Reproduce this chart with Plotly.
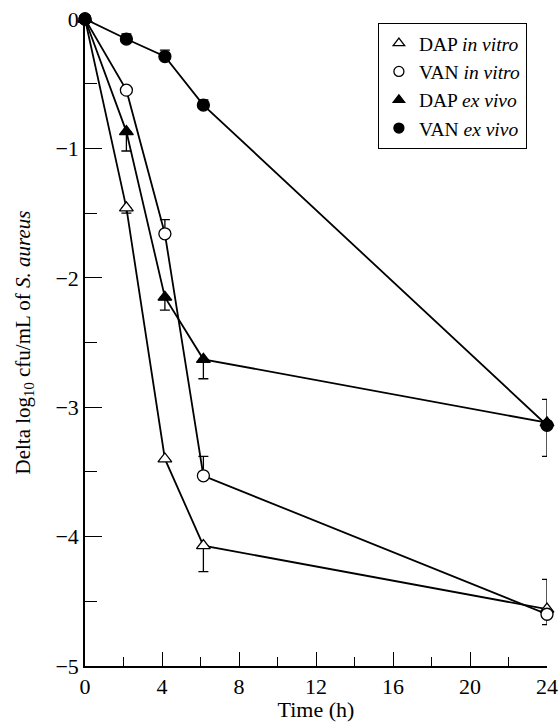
import plotly.graph_objects as go

time_h = [0, 2.15, 4.15, 6.15, 24]

dap_invitro = [0, -1.46, -3.40, -4.07, -4.56]
dap_invitro_up = [0, 0.0, 0, 0, 0.23]
dap_invitro_dn = [0, 0.04, 0, 0.20, 0]

van_invitro = [0, -0.55, -1.66, -3.53, -4.60]
van_invitro_up = [0, 0, 0.11, 0.15, 0]
van_invitro_dn = [0, 0, 0, 0, 0.08]

dap_exvivo = [0, -0.87, -2.15, -2.63, -3.12]
dap_exvivo_up = [0, 0, 0, 0, 0]
dap_exvivo_dn = [0, 0.15, 0.10, 0.15, 0]

van_exvivo = [0, -0.155, -0.29, -0.665, -3.14]
van_exvivo_up = [0, 0.04, 0.05, 0.04, 0.20]
van_exvivo_dn = [0, 0, 0, 0, 0.24]

x_ticks = [0, 4, 8, 12, 16, 20, 24]
y_ticks = [0, -1, -2, -3, -4, -5]

series = [
    ("DAP <i>in vitro</i>", dap_invitro, dap_invitro_up, dap_invitro_dn, "triangle-up", "white"),
    ("VAN <i>in vitro</i>", van_invitro, van_invitro_up, van_invitro_dn, "circle", "white"),
    ("DAP <i>ex vivo</i>", dap_exvivo, dap_exvivo_up, dap_exvivo_dn, "triangle-up", "black"),
    ("VAN <i>ex vivo</i>", van_exvivo, van_exvivo_up, van_exvivo_dn, "circle", "black"),
]

FONT = "Liberation Serif, Times New Roman, serif"

fig = go.Figure()

for name, y, up, dn, sym, fill in series:
    fig.add_trace(go.Scatter(
        x=time_h, y=y, mode="lines+markers", showlegend=False,
        line=dict(color="black", width=1.8),
        marker=dict(symbol=sym, size=12, color=fill, line=dict(color="black", width=1.3)),
        error_y=dict(type="data", symmetric=False, array=up, arrayminus=dn,
                     color="black", thickness=1.3, width=5),
        cliponaxis=False,
    ))

for name, y, up, dn, sym, fill in series:
    fig.add_trace(go.Scatter(
        x=[None], y=[None], mode="markers", name=name,
        marker=dict(symbol=sym, size=10, color=fill, line=dict(color="black", width=1.3)),
    ))

fig.update_layout(
    width=560, height=722,
    margin=dict(l=85, r=13, t=19, b=56, autoexpand=False),
    paper_bgcolor="white", plot_bgcolor="white",
    font=dict(family=FONT, size=21, color="black"),
    showlegend=True,
    legend=dict(
        x=0.634, y=0.994, xanchor="left", yanchor="top",
        bgcolor="white", bordercolor="black", borderwidth=1,
        font=dict(family=FONT, size=19.5, color="black"),
        tracegroupgap=0, itemwidth=30,
    ),
)

fig.update_xaxes(
    range=[0, 24], tickvals=x_ticks, automargin=False,
    ticks="inside", ticklen=14, tickwidth=1.3, tickcolor="black",
    minor=dict(tickvals=[2, 6, 10, 14, 18, 22], ticks="inside", ticklen=9,
               tickwidth=1.3, tickcolor="black"),
    showline=True, linecolor="black", linewidth=1.5,
    showgrid=False, zeroline=False,
    title=dict(text="Time (h)", standoff=2, font=dict(size=22)),
    tickfont=dict(size=22),
)

fig.update_yaxes(
    range=[-5, 0], tickvals=y_ticks, automargin=False,
    ticks="inside", ticklen=17, tickwidth=1.3, tickcolor="black",
    minor=dict(tickvals=[-0.5, -1.5, -2.5, -3.5, -4.5], ticks="inside", ticklen=12,
               tickwidth=1.3, tickcolor="black"),
    showline=True, linecolor="black", linewidth=1.5,
    showgrid=False, zeroline=False,
    title=dict(text="Delta log<sub>10</sub> cfu/mL of <i>S. aureus</i>", standoff=19,
               font=dict(size=21)),
    tickfont=dict(size=22),
)

fig.write_html(
    "out.html",
    config={"displayModeBar": False},
    post_script="document.body.style.margin='0';document.body.style.overflow='hidden';",
)
